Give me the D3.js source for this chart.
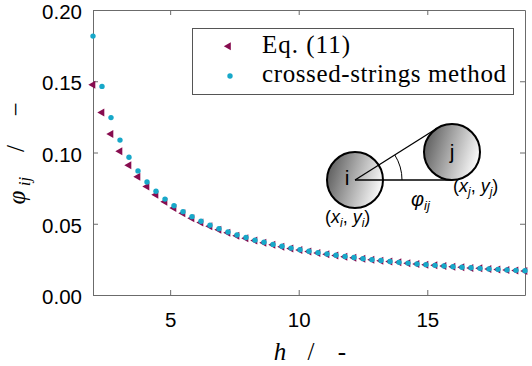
<!DOCTYPE html>
<html><head><meta charset="utf-8">
<script src="https://cdn.jsdelivr.net/npm/d3@7"></script>
<style>
html,body{margin:0;padding:0;background:#fff;}
svg{display:block;}
</style></head>
<body>
<svg id="chart" width="532" height="366"></svg>
<script>
const hValues = [2.00, 2.35, 2.70, 3.05, 3.40, 3.75, 4.10, 4.45, 4.80, 5.15, 5.50, 5.85, 6.20, 6.55, 6.90, 7.25, 7.60, 7.95, 8.30, 8.65, 9.00, 9.35, 9.70, 10.05, 10.40, 10.75, 11.10, 11.45, 11.80, 12.15, 12.50, 12.85, 13.20, 13.55, 13.90, 14.25, 14.60, 14.95, 15.30, 15.65, 16.00, 16.35, 16.70, 17.05, 17.40, 17.75, 18.10, 18.45, 18.80];
const eq11Values = [0.1476, 0.1281, 0.1129, 0.1009, 0.0911, 0.0830, 0.0762, 0.0704, 0.0654, 0.0611, 0.0573, 0.0539, 0.0509, 0.0482, 0.0458, 0.0436, 0.0416, 0.0398, 0.0382, 0.0366, 0.0352, 0.0339, 0.0327, 0.0316, 0.0305, 0.0295, 0.0286, 0.0277, 0.0269, 0.0261, 0.0254, 0.0247, 0.0241, 0.0235, 0.0229, 0.0223, 0.0218, 0.0213, 0.0208, 0.0203, 0.0199, 0.0194, 0.0190, 0.0187, 0.0183, 0.0179, 0.0176, 0.0172, 0.0169];
const crossedValues = [0.1817, 0.1464, 0.1245, 0.1087, 0.0967, 0.0871, 0.0793, 0.0728, 0.0673, 0.0626, 0.0585, 0.0550, 0.0518, 0.0490, 0.0465, 0.0442, 0.0421, 0.0403, 0.0385, 0.0370, 0.0355, 0.0342, 0.0329, 0.0318, 0.0307, 0.0297, 0.0288, 0.0279, 0.0270, 0.0263, 0.0255, 0.0248, 0.0242, 0.0235, 0.0229, 0.0224, 0.0218, 0.0213, 0.0208, 0.0204, 0.0199, 0.0195, 0.0191, 0.0187, 0.0183, 0.0180, 0.0176, 0.0173, 0.0170];
const xTicks = [5, 10, 15];
const yTicks = [0.00, 0.05, 0.10, 0.15, 0.20];
const seriesNames = ["Eq. (11)", "crossed-strings method"];
const colors = {eq: "#870c4f", cs: "#17a8c9", axis: "#6b6b6b"};

const svg = d3.select("#chart");
const L = 93, R = 525, T = 10, B = 295;
const x = d3.scaleLinear().domain([2, 18.8]).range([L, R]);
const y = d3.scaleLinear().domain([0, 0.2]).range([B, T]);

const sansFont = "'Liberation Sans', Arial, sans-serif";
const serifFont = "'Liberation Serif', 'Times New Roman', serif";

function styleAxis(g) {
  g.selectAll("path.domain").attr("stroke", colors.axis).attr("stroke-width", 1);
  g.selectAll(".tick line").attr("stroke", colors.axis).attr("stroke-width", 1);
  g.selectAll(".tick text").attr("fill", "#000").attr("font-family", sansFont).attr("font-size", 20.5);
}
svg.append("g").attr("transform", `translate(0,${B})`)
  .call(d3.axisBottom(x).tickValues(xTicks).tickSizeInner(-5).tickSizeOuter(0).tickPadding(17).tickFormat(d3.format("d")))
  .call(styleAxis);
svg.append("g").attr("transform", `translate(0,${T})`)
  .call(d3.axisTop(x).tickValues(xTicks).tickSizeInner(-5).tickSizeOuter(0).tickFormat(""))
  .call(styleAxis);
svg.append("g").attr("transform", `translate(${L},0)`)
  .call(d3.axisLeft(y).tickValues(yTicks).tickSizeInner(-5).tickSizeOuter(0).tickPadding(11).tickFormat(d3.format(".2f")))
  .call(styleAxis)
  .call(g => g.selectAll(".tick text").attr("dy", "0.42em"));
svg.append("g").attr("transform", `translate(${R},0)`)
  .call(d3.axisRight(y).tickValues(yTicks).tickSizeInner(-5).tickSizeOuter(0).tickFormat(""))
  .call(styleAxis);

const data = hValues.map((h, i) => ({h, eq: eq11Values[i], cs: crossedValues[i]}));
const triPath = "M-4.7,0L2.3,-4L2.3,4Z";
svg.append("g").selectAll("path").data(data).join("path")
  .attr("d", triPath)
  .attr("transform", d => `translate(${x(d.h)},${y(d.eq)})`)
  .attr("fill", colors.eq);
svg.append("g").selectAll("circle").data(data).join("circle")
  .attr("cx", d => x(d.h)).attr("cy", d => y(d.cs)).attr("r", 2.7)
  .attr("fill", colors.cs);

const lg = svg.append("g");
lg.append("rect").attr("x", 192.5).attr("y", 28.5).attr("width", 321).attr("height", 66)
  .attr("fill", "#fff").attr("stroke", "#555").attr("stroke-width", 1);
lg.append("path").attr("d", triPath).attr("transform", "translate(228.5,46.3)").attr("fill", colors.eq);
lg.append("circle").attr("cx", 230).attr("cy", 76).attr("r", 2.7).attr("fill", colors.cs);
lg.append("text").attr("x", 262).attr("y", 53).text(seriesNames[0])
  .attr("font-family", serifFont).attr("font-size", 25).attr("textLength", 88).attr("lengthAdjust", "spacing");
lg.append("text").attr("x", 262).attr("y", 82).text(seriesNames[1])
  .attr("font-family", serifFont).attr("font-size", 25).attr("textLength", 244).attr("lengthAdjust", "spacing");

const cx = (L + R) / 2, cy = (T + B) / 2;
const xl = svg.append("g").attr("font-family", serifFont).attr("font-size", 25).attr("text-anchor", "middle");
xl.append("text").attr("x", cx - 29).attr("y", 360).attr("font-style", "italic").text("h");
xl.append("text").attr("x", cx + 2).attr("y", 360).text("/");
xl.append("text").attr("x", cx + 33).attr("y", 360).text("-");

const yl = svg.append("g").attr("font-family", serifFont).attr("font-size", 25).attr("text-anchor", "middle");
function rotText(px, py, txt, opts = {}) {
  const t = yl.append("text").attr("transform", `translate(${px},${py}) rotate(-90)`).text(txt);
  if (opts.italic) t.attr("font-style", "italic");
  if (opts.size) t.attr("font-size", opts.size);
  return t;
}
rotText(25, cy + 45, "φ", {italic: true});
rotText(30, cy + 29, "ij", {italic: true, size: 17});
rotText(24, cy - 4, "/");
rotText(24, cy - 43, "−");

const defs = svg.append("defs");
const grad = defs.append("linearGradient").attr("id", "ballGrad").attr("x1", "0").attr("x2", "1").attr("y1", "0.35").attr("y2", "0.65");
grad.append("stop").attr("offset", "0%").attr("stop-color", "#5e5e5e");
grad.append("stop").attr("offset", "45%").attr("stop-color", "#a8a8a8");
grad.append("stop").attr("offset", "100%").attr("stop-color", "#ffffff");

const ins = svg.append("g");
const ci = {x: 355, y: 180}, cj = {x: 452, y: 152}, rad = 28;
ins.append("circle").attr("cx", ci.x).attr("cy", ci.y).attr("r", rad).attr("fill", "url(#ballGrad)").attr("stroke", "#000").attr("stroke-width", 2);
ins.append("circle").attr("cx", cj.x).attr("cy", cj.y).attr("r", rad).attr("fill", "url(#ballGrad)").attr("stroke", "#000").attr("stroke-width", 2);
const dx = cj.x - ci.x, dy = cj.y - ci.y, dist = Math.hypot(dx, dy);
const base = Math.atan2(dy, dx), half = Math.asin(rad / dist), tl = Math.sqrt(dist * dist - rad * rad);
const a1 = base - half, a2 = base + half;
[a1, a2].forEach(a => {
  ins.append("line").attr("x1", ci.x).attr("y1", ci.y)
    .attr("x2", ci.x + tl * Math.cos(a)).attr("y2", ci.y + tl * Math.sin(a))
    .attr("stroke", "#000").attr("stroke-width", 1.3);
});
const ar = 47;
ins.append("path").attr("d", `M${ci.x + ar * Math.cos(a1)},${ci.y + ar * Math.sin(a1)} A${ar},${ar} 0 0 1 ${ci.x + ar * Math.cos(a2)},${ci.y + ar * Math.sin(a2)}`)
  .attr("fill", "none").attr("stroke", "#000").attr("stroke-width", 1);
ins.append("text").attr("x", 347).attr("y", 185).attr("text-anchor", "middle").attr("font-family", sansFont).attr("font-size", 21).text("i");
ins.append("text").attr("x", 452).attr("y", 159).attr("text-anchor", "middle").attr("font-family", sansFont).attr("font-size", 21).text("j");

function coordLabel(px, py, sub) {
  const t = ins.append("text").attr("x", px).attr("y", py).attr("font-family", sansFont).attr("font-size", 18);
  t.append("tspan").text("(");
  t.append("tspan").attr("font-style", "italic").text("x");
  t.append("tspan").attr("font-style", "italic").attr("font-size", 12).attr("dy", 4).text(sub);
  t.append("tspan").attr("dy", -4).text(", ");
  t.append("tspan").attr("font-style", "italic").text("y");
  t.append("tspan").attr("font-style", "italic").attr("font-size", 12).attr("dy", 4).text(sub);
  t.append("tspan").attr("dy", -4).text(")");
}
coordLabel(325, 223, "i");
coordLabel(453, 192, "j");
const phi = ins.append("text").attr("x", 411).attr("y", 206).attr("font-family", sansFont).attr("font-size", 20);
phi.append("tspan").attr("font-style", "italic").text("φ");
phi.append("tspan").attr("font-style", "italic").attr("font-size", 13).attr("dy", 4).text("ij");
</script>
</body></html>
